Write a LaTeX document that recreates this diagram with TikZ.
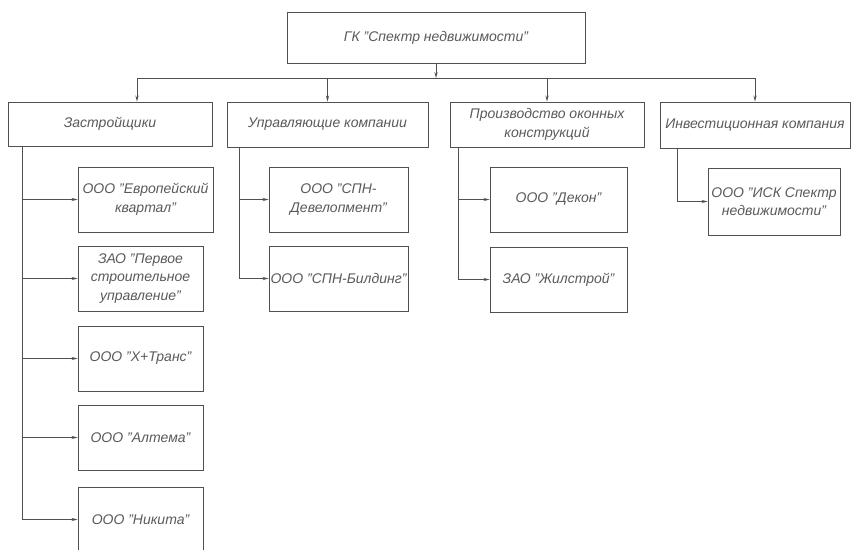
\documentclass[tikz,border=0pt]{standalone}
\usepackage{fontspec}
\setmainfont{Liberation Sans}
\usetikzlibrary{arrows.meta}
\definecolor{ln}{HTML}{505050}
\definecolor{tx}{HTML}{5A5A5A}
\begin{document}
\begin{tikzpicture}[x=1pt,y=-1pt,
  box/.style={draw=ln,line width=0.9pt,inner sep=1pt,align=center,text=tx,
    font=\fontsize{14}{18.5}\selectfont\itshape},
  arr/.style={draw=ln,line width=0.9pt,-{Stealth[length=6pt,width=3.2pt]}},
  ln/.style={draw=ln,line width=0.9pt}]
\useasboundingbox (0,0) rectangle (859,549);
\clip (0,0) rectangle (859,549);
\fill[white] (0,0) rectangle (859,549);
% top
\node[box,minimum width=298pt,minimum height=51pt] (top) at (436,37.5) {ГК "Спектр недвижимости"};
% level 2
\node[box,minimum width=204pt,minimum height=44pt] (z) at (110,124) {Застройщики};
\node[box,minimum width=201pt,minimum height=45pt] (u) at (327.5,124.5) {Управляющие компании};
\node[box,minimum width=194pt,minimum height=45pt] (p) at (547,124.5) {Производство оконных\\конструкций};
\node[box,minimum width=190pt,minimum height=46pt] (i) at (755,125) {Инвестиционная компания};
% level 3
\node[box,minimum width=135pt,minimum height=65pt] (e1) at (145.5,199.5) {ООО "Европейский\\квартал"};
\node[box,minimum width=125pt,minimum height=65pt] (e2) at (140.5,278.5) {ЗАО "Первое\\строительное\\управление"};
\node[box,minimum width=125pt,minimum height=65pt] (e3) at (140.5,358.5) {ООО "Х+Транс"};
\node[box,minimum width=125pt,minimum height=65pt] (e4) at (140.5,437.5) {ООО "Алтема"};
\node[box,minimum width=125pt,minimum height=65pt] (e5) at (140.5,519.5) {ООО "Никита"};
\node[box,minimum width=139pt,minimum height=65pt] (u1) at (338.5,199.5) {ООО "СПН-\\Девелопмент"};
\node[box,minimum width=139pt,minimum height=65pt] (u2) at (338.5,278.5) {ООО "СПН-Билдинг"};
\node[box,minimum width=137pt,minimum height=65pt] (p1) at (558.5,199.5) {ООО "Декон"};
\node[box,minimum width=137pt,minimum height=65pt] (p2) at (558.5,279.5) {ЗАО "Жилстрой"};
\node[box,minimum width=132pt,minimum height=67pt] (i1) at (774,201.5) {ООО "ИСК Спектр\\недвижимости"};
% bus
\coordinate (bl) at (137,78);
\coordinate (br) at (755,78);
\draw[arr] (top.south) -- (top.south |- bl);
\draw[ln] (bl) -- (br);
\draw[arr] (bl) -- (bl |- z.north);
\draw[arr] (u.north |- bl) -- (u.north);
\draw[arr] (p.north |- bl) -- (p.north);
\draw[arr] (br) -- (i.north);
% branch verticals
\coordinate (vz) at (22,0);
\coordinate (vu) at (239,0);
\coordinate (vp) at (458,0);
\coordinate (vi) at (677,0);
\draw[ln] (vz |- z.south) -- (vz |- e5.west);
\foreach \n in {e1,e2,e3,e4,e5} \draw[arr] (vz |- \n.west) -- (\n.west);
\draw[ln] (vu |- u.south) -- (vu |- u2.west);
\foreach \n in {u1,u2} \draw[arr] (vu |- \n.west) -- (\n.west);
\draw[ln] (vp |- p.south) -- (vp |- p2.west);
\foreach \n in {p1,p2} \draw[arr] (vp |- \n.west) -- (\n.west);
\draw[ln] (vi |- i.south) -- (vi |- i1.west);
\draw[arr] (vi |- i1.west) -- (i1.west);
\end{tikzpicture}
\end{document}
